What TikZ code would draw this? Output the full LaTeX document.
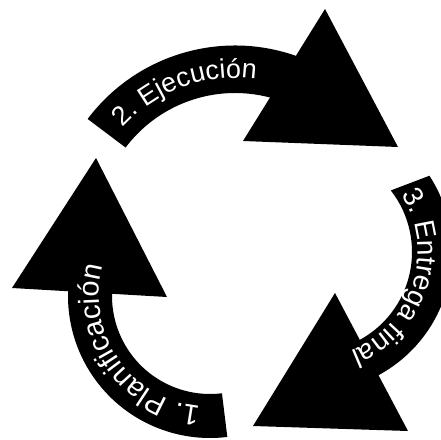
\documentclass[tikz,border=0pt]{standalone}
\usepackage{fontspec}
\setmainfont{Liberation Sans}
\usetikzlibrary{calc,decorations.text}

\begin{document}
\begin{tikzpicture}[x=1pt, y=1pt,
    banda/.style={fill=black},
    punta/.style={fill=black},
    rotulo/.style={decorate, decoration={text along path, text align=left, text color=white}}]

    % Marco de la figura
    \clip (0,0) rectangle (441,439);

    % Centros de los tres arcos
    \coordinate (c1) at (210,143);
    \coordinate (c2) at (235,209);
    \coordinate (c3) at (312,187);

    % 1. Bandas curvas (se dibujan debajo de las puntas)
    \fill[banda] ($(c1)+(-83:142)$) arc[start angle=-83, end angle=-188, radius=142]
        -- ($(c1)+(-188:98)$) arc[start angle=-188, end angle=-83, radius=98] -- cycle;
    \fill[banda] ($(c2)+(143:184.5)$) arc[start angle=143, end angle=65, radius=184.5]
        -- ($(c2)+(65:137)$) arc[start angle=65, end angle=143, radius=137] -- cycle;
    \fill[banda] ($(c3)+(33:140)$) arc[start angle=33, end angle=-75, radius=140]
        -- ($(c3)+(-75:100)$) arc[start angle=-75, end angle=38, radius=100] -- cycle;

    % 2. Puntas de flecha (triangulos)
    \fill[punta] (96,281) -- (12,151) -- (167,142) -- cycle;
    \fill[punta] (325,430) -- (243,298) -- (398,292) -- cycle;
    \fill[punta] (335,146) -- (253,13) -- (408,8) -- cycle;

    % 3. Rotulos sobre las bandas
    \path[rotulo, decoration={text={|\fontsize{29}{29}\selectfont|1. Planificación}}]
        ($(c1)+(-95:111)$) arc[start angle=-95, end angle=-220, radius=111];
    \path[rotulo, decoration={text={|\fontsize{27}{27}\selectfont|2. Ejecución}}]
        ($(c2)+(137.5:152)$) arc[start angle=137.5, end angle=70, radius=152];
    \path[rotulo, decoration={text={|\fontsize{28}{28}\selectfont|3. Entrega final}}]
        ($(c3)+(33:106)$) arc[start angle=33, end angle=-85, radius=106];
\end{tikzpicture}
\end{document}
